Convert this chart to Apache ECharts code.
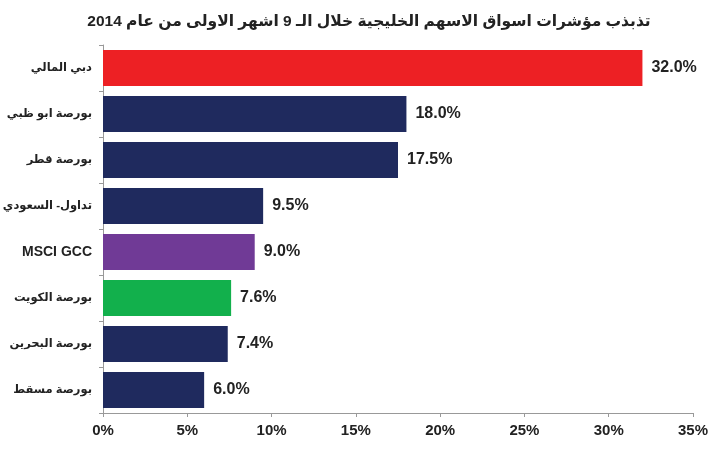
<!DOCTYPE html>
<html>
<head>
<meta charset="utf-8">
<script src="https://cdn.jsdelivr.net/npm/echarts@6/dist/echarts.min.js"></script>
<style>
  html, body { margin: 0; padding: 0; background: #fff; }
  #main { width: 718px; height: 450px; }
</style>
</head>
<body>
<div id="main"></div>
<script>
var categories = ['دبي المالي', 'بورصة ابو ظبي', 'بورصة قطر', 'تداول- السعودي', 'MSCI GCC', 'بورصة الكويت', 'بورصة البحرين', 'بورصة مسقط'];
var values = [32.0, 18.0, 17.5, 9.5, 9.0, 7.6, 7.4, 6.0];
var barColors = ['#ED2024', '#1F2A5E', '#1F2A5E', '#1F2A5E', '#703A96', '#12B04C', '#1F2A5E', '#1F2A5E'];

var font = "'Liberation Sans Narrow', 'Liberation Sans', 'DejaVu Sans', sans-serif";

var myChart = echarts.init(document.getElementById('main'));
var option = {
    animation: false,
    title: {
        text: 'تذبذب مؤشرات اسواق الاسهم الخليجية خلال الـ 9 اشهر الاولى من عام 2014',
        left: 364,
        top: 9,
        textAlign: 'center',
        textStyle: { fontFamily: font, fontSize: 15.5, fontWeight: 'bold', color: '#222' }
    },
    grid: { left: 103, right: 25, top: 45, bottom: 37, outerBoundsMode: 'none', containLabel: false },
    xAxis: {
        type: 'value',
        min: 0,
        max: 35,
        interval: 5,
        splitLine: { show: false },
        axisLine: { show: true, lineStyle: { color: '#999' } },
        axisTick: { show: true, length: 4, lineStyle: { color: '#999' } },
        axisLabel: {
            formatter: '{value}%',
            margin: 10,
            fontFamily: font, fontSize: 15, fontWeight: 'bold', color: '#222'
        }
    },
    yAxis: {
        type: 'category',
        data: categories,
        inverse: true,
        axisLine: { show: true, lineStyle: { color: '#999' } },
        axisTick: { show: true, length: 4, lineStyle: { color: '#999' } },
        axisLabel: {
            margin: 11,
            fontFamily: font, fontSize: 11.5, fontWeight: 'bold', color: '#222',
            // latin label is drawn bigger in the original
            formatter: function (v) {
                return /^[A-Z ]+$/.test(v) ? '{big|' + v + '}' : v;
            },
            rich: {
                big: { fontFamily: font, fontSize: 14, fontWeight: 'bold', color: '#222' }
            }
        }
    },
    series: [{
        type: 'bar',
        data: values.map(function (v, i) {
            return { value: v, itemStyle: { color: barColors[i] } };
        }),
        barCategoryGap: '22%',
        label: {
            show: true,
            position: 'right',
            distance: 9,
            formatter: function (p) { return p.value.toFixed(1) + '%'; },
            fontFamily: font, fontSize: 16, fontWeight: 'bold', color: '#222'
        }
    }]
};
myChart.setOption(option);
</script>
</body>
</html>
